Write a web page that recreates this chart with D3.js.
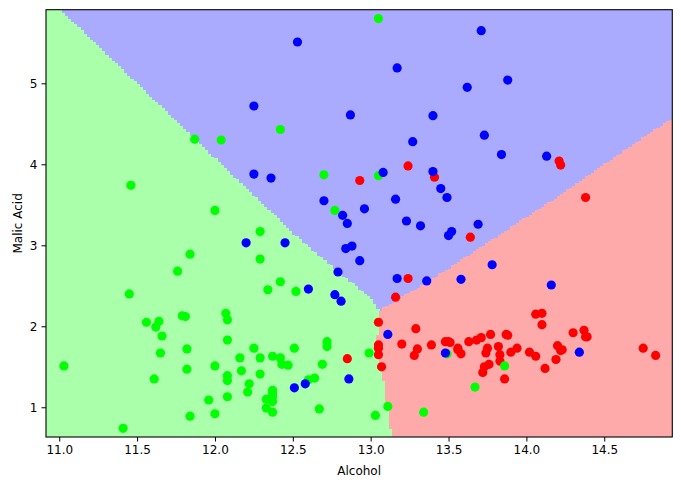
<!DOCTYPE html>
<html>
<head>
<meta charset="utf-8">
<script src="https://cdn.jsdelivr.net/npm/d3@7"></script>
<style>
  body { margin: 0; background: #fff; }
  svg { display: block; font-family: "DejaVu Sans", sans-serif; }
</style>
</head>
<body>
<svg id="chart" width="681" height="489"></svg>
<script>
// wine samples: [alcohol, malic acid]
const class0 = [
  [14.23,1.71],[13.2,1.78],[13.16,2.36],[14.37,1.95],[13.24,2.59],[14.2,1.76],[14.39,1.87],
  [14.06,2.15],[14.83,1.64],[13.86,1.35],[14.1,2.16],[14.12,1.48],[13.75,1.73],[14.75,1.73],
  [14.38,1.87],[13.63,1.81],[14.3,1.92],[13.83,1.57],[14.19,1.59],[13.64,3.1],[14.06,1.63],
  [12.93,3.8],[13.71,1.86],[12.85,1.6],[13.5,1.81],[13.05,2.05],[13.39,1.77],[13.3,1.72],
  [13.87,1.9],[14.02,1.68],[13.73,1.5],[13.58,1.66],[13.68,1.83],[13.76,1.53],[13.51,1.8],
  [13.48,1.81],[13.28,1.64],[13.05,1.65],[13.07,1.5],[14.22,3.99],[13.56,1.71],[13.41,3.84],
  [13.88,1.89],[13.24,3.98],[13.05,1.77],[14.21,4.04],[14.38,3.59],[13.9,1.68],[14.1,2.02],
  [13.94,1.73],[13.05,1.73],[13.83,1.65],[13.82,1.75],[13.77,1.9],[13.74,1.67],[13.56,1.73],
  [14.22,1.7],[13.29,1.97],[13.72,1.43]
];
const class1 = [
  [12.37,0.94],[12.33,1.1],[12.64,1.36],[13.67,1.25],[12.37,1.13],[12.17,1.45],[12.37,1.21],
  [13.11,1.01],[12.37,1.17],[13.34,0.94],[12.21,1.19],[12.29,1.61],[13.86,1.51],[13.49,1.66],
  [12.99,1.67],[11.96,1.09],[11.66,1.88],[13.03,0.9],[11.84,2.89],[12.33,0.99],[12.7,3.87],
  [12.0,0.92],[12.72,1.81],[12.08,1.13],[13.05,3.86],[11.84,0.89],[12.67,0.98],[12.16,1.61],
  [11.65,1.67],[11.64,2.06],[12.08,1.33],[12.08,1.83],[12.0,1.51],[12.69,1.53],[12.29,2.83],
  [11.62,1.99],[12.47,1.52],[11.81,2.12],[12.29,1.41],[12.37,1.07],[12.29,3.17],[12.08,2.08],
  [12.6,1.34],[12.34,2.45],[11.82,1.72],[12.51,1.73],[12.42,2.55],[12.25,1.73],[12.72,1.75],
  [12.22,1.29],[11.61,1.35],[11.46,3.74],[12.52,2.43],[11.76,2.68],[11.41,0.74],[12.08,1.39],
  [11.03,1.51],[11.82,1.47],[12.42,1.61],[12.77,3.43],[12.0,3.43],[11.45,2.4],[11.56,2.05],
  [12.42,4.43],[13.05,5.8],[11.87,4.31],[12.07,2.16],[12.43,1.53],[11.79,2.13],[12.37,1.63],
  [12.04,4.3]
];
const class2 = [
  [12.86,1.35],[12.88,2.99],[12.81,2.31],[12.7,3.55],[12.51,1.24],[12.6,2.46],[12.25,4.72],
  [12.53,5.51],[13.49,3.59],[12.84,2.96],[12.93,2.81],[13.36,2.56],[13.52,3.17],[13.62,4.95],
  [12.25,3.88],[13.16,3.57],[13.88,5.04],[12.87,4.61],[13.32,3.24],[13.08,3.9],[13.5,3.12],
  [12.79,2.67],[13.11,1.9],[13.23,3.3],[12.58,1.29],[13.17,5.19],[13.84,4.12],[12.45,3.03],
  [14.34,1.68],[13.48,1.67],[12.36,3.83],[13.69,3.26],[12.85,3.27],[12.96,3.45],[13.78,2.76],
  [13.73,4.36],[13.45,3.7],[12.82,3.37],[13.58,2.58],[13.4,4.6],[12.2,3.03],[12.77,2.39],
  [14.16,2.51],[13.71,5.65],[13.4,3.91],[13.27,4.28],[13.17,2.59],[14.13,4.1]
];

// decision boundaries (alcohol, malic acid)
const greenBlueEdge = [[11.005,5.909],[12.546,3.066],[13.009,2.325],[13.054,2.189]];
const greenRedEdge  = [[13.054,2.189],[13.041,1.769],[13.079,1.424],[13.131,0.633]];
const blueRedEdge   = [[13.054,2.189],[13.445,2.646],[14.216,3.621],[14.937,4.578]];

const xTicks = [11.0, 11.5, 12.0, 12.5, 13.0, 13.5, 14.0, 14.5];
const yTicks = [1, 2, 3, 4, 5];
const xDomain = [10.915, 14.937];
const yDomain = [0.633, 5.909];
const meshStep = 0.02;

const svg = d3.select("#chart");
const margin = { top: 9.7, right: 8.7, bottom: 52, left: 46 };
const W = 681 - margin.left - margin.right;
const H = 489 - margin.top - margin.bottom;

const x = d3.scaleLinear().domain(xDomain).range([0, W]);
const y = d3.scaleLinear().domain(yDomain).range([H, 0]);

const g = svg.append("g").attr("transform", `translate(${margin.left},${margin.top})`);

g.append("clipPath").attr("id", "clip")
  .append("rect").attr("width", W).attr("height", H);

const plot = g.append("g").attr("clip-path", "url(#clip)");

// blue background, green and red mesh cells on top
plot.append("rect").attr("width", W).attr("height", H).attr("fill", "#aaaaff");

const [x0, x1] = xDomain, [y0, y1] = yDomain;
const greenPoly = [[x0, y1], ...greenBlueEdge, ...greenRedEdge.slice(1), [x0, y0]];
const redPoly = [...greenRedEdge, [x1, y0], ...blueRedEdge.slice().reverse()];

// run-length rows of mesh cells, like a pcolormesh
const cells = [];
const nx = Math.round((x1 - x0) / meshStep), ny = Math.round((y1 - y0) / meshStep);
for (let j = 0; j < ny; j++) {
  const cy = y0 + (j + 0.5) * meshStep;
  let run = null;
  for (let i = 0; i <= nx; i++) {
    const cx = x0 + (i + 0.5) * meshStep;
    const c = i === nx ? null
      : d3.polygonContains(greenPoly, [cx, cy]) ? "#aaffaa"
      : d3.polygonContains(redPoly, [cx, cy]) ? "#ffaaaa" : null;
    if (run && run.c !== c) { run.i1 = i; cells.push(run); run = null; }
    if (c && !run) run = { c, i0: i, j };
  }
}

plot.append("g").attr("shape-rendering", "crispEdges")
  .selectAll("rect").data(cells)
  .enter().append("rect")
    .attr("x", d => x(x0 + d.i0 * meshStep))
    .attr("width", d => x(x0 + d.i1 * meshStep) - x(x0 + d.i0 * meshStep) + 0.3)
    .attr("y", d => y(y0 + (d.j + 1) * meshStep))
    .attr("height", d => y(y0 + d.j * meshStep) - y(y0 + (d.j + 1) * meshStep) + 0.3)
    .attr("fill", d => d.c);

const pts = [
  ...class0.map(d => ({ a: d[0], m: d[1], c: "#ff0000" })),
  ...class1.map(d => ({ a: d[0], m: d[1], c: "#00ff00" })),
  ...class2.map(d => ({ a: d[0], m: d[1], c: "#0000ff" }))
];

plot.selectAll("circle").data(pts)
  .enter().append("circle")
    .attr("cx", d => x(d.a))
    .attr("cy", d => y(d.m))
    .attr("r", 4.6)
    .attr("fill", d => d.c);

// axes
const xAxis = g.append("g").attr("transform", `translate(0,${H})`)
  .call(d3.axisBottom(x).tickValues(xTicks).tickFormat(d3.format(".1f"))
        .tickSizeInner(4.5).tickSizeOuter(0).tickPadding(4));
const yAxis = g.append("g")
  .call(d3.axisLeft(y).tickValues(yTicks).tickFormat(d3.format("d"))
        .tickSizeInner(4.5).tickSizeOuter(0).tickPadding(4));

[xAxis, yAxis].forEach(ax => {
  ax.select(".domain").remove();
  ax.selectAll("text").attr("font-family", "DejaVu Sans").attr("font-size", "12px").attr("fill", "#000");
  ax.selectAll("line").attr("stroke", "#000").attr("stroke-width", 1);
});

g.append("rect").attr("width", W).attr("height", H)
  .attr("fill", "none").attr("stroke", "#000").attr("stroke-width", 1.1);

g.append("text").attr("x", W / 2).attr("y", H + 38.3)
  .attr("text-anchor", "middle").attr("font-size", "12px")
  .text("Alcohol");
g.append("text").attr("transform", "rotate(-90)")
  .attr("x", -H / 2).attr("y", 21.5 - margin.left)
  .attr("text-anchor", "middle").attr("font-size", "12px")
  .text("Malic Acid");
</script>
</body>
</html>
